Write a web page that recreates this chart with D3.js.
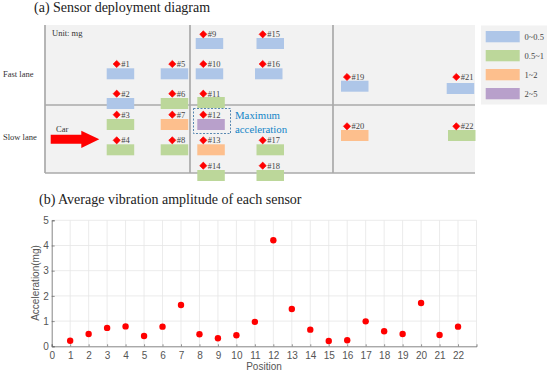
<!DOCTYPE html>
<html>
<head>
<meta charset="utf-8">
<script src="https://cdn.jsdelivr.net/npm/d3@7"></script>
<style>
html, body { margin: 0; padding: 0; background: #fff; }
svg { display: block; }
.serif { font-family: "Liberation Serif", serif; }
.sans { font-family: "Liberation Sans", Arial, sans-serif; }
</style>
</head>
<body>
<div id="chart"></div>
<script>
// sensor numbers and measured amplitude (mg)
var positions = d3.range(1, 23);
var acceleration = [0.22, 0.49, 0.73, 0.79, 0.41, 0.78, 1.64, 0.48, 0.32, 0.44, 0.97,
  4.21, 1.48, 0.66, 0.21, 0.24, 0.99, 0.6, 0.49, 1.72, 0.45, 0.78];

// amplitude class shown on the diagram, per sensor
var levels = ["0~0.5", "0.5~1", "1~2", "2~5"];
var sensorLevel = [0, 0, 1, 1, 0, 1, 2, 1, 0, 0, 1, 3, 2, 1, 0, 0, 1, 1, 0, 2, 0, 1];

// where each sensor sits on the diagram (column and row slots)
var sensorColumn = [1, 1, 1, 1, 2, 2, 2, 2, 3, 3, 3, 3, 3, 3, 4, 4, 4, 4, 5, 5, 6, 6];
var sensorRow = ["B", "D", "E", "G", "B", "D", "E", "G", "A", "B", "D", "E", "G", "H", "A", "B", "G", "H", "C", "F", "C", "F"];
var barColumn = ["a", "a", "a", "a", "b", "b", "b", "b", "c", "c", "d", "d", "d", "d", "e", "f", "e", "e", "g", "g", "h", "i"];
var barRow = ["r2", "r5", "r6", "r8", "r2", "r5", "r6", "r8", "r1", "r2", "r4", "r6", "r8", "r9", "r1", "r2", "r8", "r9", "r3", "r7", "r3b", "r7"];

var xTicks = d3.range(0, 23);
var yTicks = [0, 1, 2, 3, 4, 5];

var width = 550, height = 375;
var svg = d3.select("#chart").append("svg")
  .attr("width", width)
  .attr("height", height);

// ---- (a) diagram ----
svg.append("text").attr("class", "serif")
  .attr("x", 34).attr("y", 12)
  .style("font-size", "14px").style("fill", "#222")
  .text("(a) Sensor deployment diagram");

svg.append("rect")
  .attr("x", 45).attr("y", 25)
  .attr("width", 430).attr("height", 148)
  .attr("fill", "#f2f2f2");

// lane and section lines
var gridLines = [[45, 25, 45, 173], [45, 173, 475, 173], [45, 105, 475, 105], [190, 25, 190, 173], [333, 25, 333, 173]];
svg.selectAll(".panel-line")
  .data(gridLines)
  .enter().append("line")
  .attr("class", "panel-line")
  .attr("x1", function (d) { return d[0]; })
  .attr("y1", function (d) { return d[1]; })
  .attr("x2", function (d) { return d[2]; })
  .attr("y2", function (d) { return d[3]; })
  .attr("stroke", "#aaaaaa")
  .attr("stroke-width", 1.7);

var levelColor = d3.scaleOrdinal()
  .domain([0, 1, 2, 3])
  .range(["#aec6e8", "#bcd79a", "#fdbf8d", "#b8a0cb"]);

var markerX = d3.scaleOrdinal()
  .domain([1, 2, 3, 4, 5, 6])
  .range([116.7, 172.3, 203.3, 262.7, 347, 456.3]);
var markerY = d3.scaleOrdinal()
  .domain(["A", "B", "C", "D", "E", "F", "G", "H"])
  .range([34.3, 64, 77, 93.7, 114.7, 126.3, 140.3, 165.7]);
var barX = d3.scaleOrdinal()
  .domain(["a", "b", "c", "d", "e", "f", "g", "h", "i"])
  .range([106.7, 160.7, 195.7, 197.3, 256.5, 255, 341, 446.7, 448]);
var barY = d3.scaleOrdinal()
  .domain(["r1", "r2", "r3", "r3b", "r4", "r5", "r6", "r7", "r8", "r9"])
  .range([38, 68.3, 80.7, 83, 97, 98, 119, 130, 144.3, 170]);

// dotted box round the maximum
svg.append("rect")
  .attr("x", 193.5).attr("y", 108.5)
  .attr("width", 37).attr("height", 25)
  .attr("fill", "none")
  .attr("stroke", "#2f6b9e")
  .attr("stroke-width", 0.8)
  .attr("stroke-dasharray", "2,1.5");

svg.selectAll(".bar")
  .data(positions)
  .enter().append("rect")
  .attr("class", "bar")
  .attr("x", function (d, i) { return barX(barColumn[i]); })
  .attr("y", function (d, i) { return barY(barRow[i]); })
  .attr("width", 27.5)
  .attr("height", 11)
  .attr("fill", function (d, i) { return levelColor(sensorLevel[i]); });

svg.selectAll(".marker")
  .data(positions)
  .enter().append("path")
  .attr("class", "marker")
  .attr("d", d3.symbol().type(d3.symbolSquare).size(26))
  .attr("transform", function (d, i) {
    return "translate(" + markerX(sensorColumn[i]) + "," + markerY(sensorRow[i]) + ") rotate(45)";
  })
  .attr("fill", "#ff0000")
  .attr("stroke", "#ff0000")
  .attr("stroke-width", 0.6);

svg.selectAll(".marker-label")
  .data(positions)
  .enter().append("text")
  .attr("class", "marker-label serif")
  .attr("x", function (d, i) { return markerX(sensorColumn[i]) + 4.5; })
  .attr("y", function (d, i) { return markerY(sensorRow[i]) + 3; })
  .style("font-size", "8.5px")
  .style("fill", "#444")
  .text(function (d) { return "#" + d; });

var notes = [["Unit: mg", 52, 36], ["Fast lane", 3, 77], ["Slow lane", 3, 140], ["Car", 56, 132]];
svg.selectAll(".note")
  .data(notes)
  .enter().append("text")
  .attr("class", "note serif")
  .attr("x", function (d) { return d[1]; })
  .attr("y", function (d) { return d[2]; })
  .style("font-size", "8.5px")
  .style("fill", "#333")
  .text(function (d) { return d[0]; });

// car arrow
svg.append("path")
  .attr("d", d3.line()([[50.7, 134.7], [81.3, 134.7], [81.3, 130.7], [99.3, 139.2], [81.3, 148], [81.3, 143.7], [50.7, 143.7]]) + "Z")
  .attr("fill", "#ff0000");

svg.selectAll(".max-note")
  .data(["Maximum", "acceleration"])
  .enter().append("text")
  .attr("class", "max-note serif")
  .attr("x", 235)
  .attr("y", function (d, i) { return 119 + i * 14; })
  .style("font-size", "10.8px")
  .style("fill", "#1285c8")
  .text(function (d) { return d; });

// legend
svg.append("rect")
  .attr("x", 481).attr("y", 25.5)
  .attr("width", 66).attr("height", 79)
  .attr("fill", "#f2f2f2");

var legendY = d3.scalePoint()
  .domain(levels)
  .range([31, 88]);

svg.selectAll(".legend-box")
  .data(levels)
  .enter().append("rect")
  .attr("class", "legend-box")
  .attr("x", 485.7)
  .attr("y", function (d) { return legendY(d); })
  .attr("width", 34)
  .attr("height", 11.3)
  .attr("fill", function (d, i) { return levelColor(i); });

svg.selectAll(".legend-text")
  .data(levels)
  .enter().append("text")
  .attr("class", "legend-text serif")
  .attr("x", 524.5)
  .attr("y", function (d) { return legendY(d) + 9; })
  .style("font-size", "8.5px")
  .style("fill", "#444")
  .text(function (d) { return d; });

// ---- (b) scatter ----
svg.append("text").attr("class", "serif")
  .attr("x", 39).attr("y", 204)
  .style("font-size", "14px").style("fill", "#222")
  .text("(b) Average vibration amplitude of each sensor");

var x = d3.scaleLinear().domain([0, 23]).range([51.7, 476.5]);
var y = d3.scaleLinear().domain([0, 5]).range([346.3, 220.3]);

svg.append("g")
  .selectAll("line")
  .data(xTicks.concat([23]).slice(1))
  .enter().append("line")
  .attr("x1", function (d) { return x(d); })
  .attr("x2", function (d) { return x(d); })
  .attr("y1", y(0))
  .attr("y2", y(5))
  .attr("stroke", "#e6e6e6")
  .attr("stroke-width", 0.8);

svg.append("g")
  .selectAll("line")
  .data(yTicks.slice(1))
  .enter().append("line")
  .attr("x1", x(0))
  .attr("x2", x(23))
  .attr("y1", function (d) { return y(d); })
  .attr("y2", function (d) { return y(d); })
  .attr("stroke", "#e6e6e6")
  .attr("stroke-width", 0.8);

var xAxis = svg.append("g")
  .attr("class", "sans")
  .attr("transform", "translate(0," + y(0) + ")")
  .call(d3.axisBottom(x).tickValues(xTicks).tickSize(-2).tickPadding(6).tickFormat(d3.format("d")));
var yAxis = svg.append("g")
  .attr("class", "sans")
  .attr("transform", "translate(" + x(0) + ",0)")
  .call(d3.axisLeft(y).tickValues(yTicks).tickSize(-3).tickPadding(3).tickFormat(d3.format("d")));

[xAxis, yAxis].forEach(function (axis) {
  axis.attr("font-family", null);
  axis.selectAll("text").style("font-size", "10px").style("fill", "#555");
  axis.selectAll("line").attr("stroke", "#666").attr("stroke-width", 0.7);
  axis.select(".domain").attr("stroke", "#666").attr("stroke-width", 0.8);
});

svg.selectAll(".dot")
  .data(acceleration)
  .enter().append("circle")
  .attr("class", "dot")
  .attr("cx", function (d, i) { return x(positions[i]); })
  .attr("cy", function (d) { return y(d); })
  .attr("r", 3.2)
  .attr("fill", "#ff0000");

svg.append("text").attr("class", "sans")
  .attr("x", 264).attr("y", 370)
  .style("text-anchor", "middle")
  .style("font-size", "10px").style("fill", "#555")
  .text("Position");

svg.append("text").attr("class", "sans")
  .attr("transform", "rotate(-90)")
  .attr("x", -283).attr("y", 39)
  .style("text-anchor", "middle")
  .style("font-size", "10px").style("fill", "#555")
  .text("Acceleration(mg)");
</script>
</body>
</html>
